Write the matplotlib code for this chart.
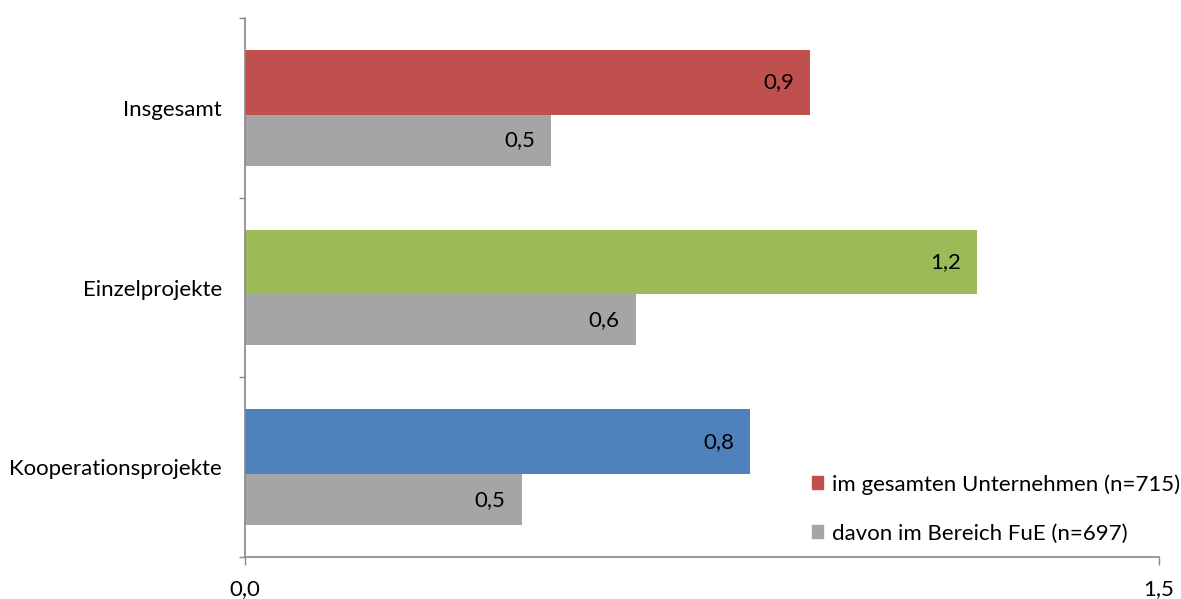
import matplotlib
matplotlib.use('Agg')
import matplotlib.pyplot as plt
from matplotlib.patches import Patch

plt.rcParams['font.family'] = ['Lato', 'DejaVu Sans']

# categories and values
categories = ['Insgesamt', 'Einzelprojekte', 'Kooperationsprojekte']
total_vals = [0.927, 1.202, 0.829]   # im gesamten Unternehmen
fue_vals = [0.502, 0.641, 0.454]     # davon im Bereich FuE
total_colors = ['#C0504D', '#9BBB59', '#4F81BD']
fue_color = '#A5A5A5'
legend_labels = ['im gesamten Unternehmen (n=715)', 'davon im Bereich FuE (n=697)']
xtick_vals = [0.0, 1.5]

fig = plt.figure(figsize=(11.81, 5.99), dpi=100)
ax = fig.add_axes([245 / 1181, 1 - 557 / 599, 914 / 1181, 539 / 599])

pos = list(range(len(categories)))
h_total = 65 / 180
h_fue = 51 / 180
off_total = -25.5 / 180
off_fue = 32.5 / 180

y_total = [p + off_total for p in pos]
y_fue = [p + off_fue for p in pos]
b1 = ax.barh(y_total, total_vals, height=h_total, color=total_colors)
b2 = ax.barh(y_fue, fue_vals, height=h_fue, color=fue_color)

fs = 16
for bars, vals in ((b1, total_vals), (b2, fue_vals)):
    for rect, v in zip(bars, vals):
        ax.annotate(f'{v:.1f}'.replace('.', ','),
                    xy=(rect.get_width(), rect.get_y() + rect.get_height() / 2),
                    xytext=(-16, 0), textcoords='offset pixels',
                    ha='right', va='center', fontsize=fs, color='black')

ax.set_xlim(0, 1.5)
ax.set_ylim(len(categories) - 0.5, -0.5)

# category boundaries as tick marks, labels in the middle
ax.set_yticks([p - 0.5 for p in pos] + [pos[-1] + 0.5])
ax.set_yticklabels([])
ax.set_yticks(pos, minor=True)
ax.set_yticklabels(categories, minor=True, fontsize=fs)
ax.tick_params(axis='y', which='minor', length=0, pad=16.5)
ax.tick_params(axis='y', which='major', length=4.3, color='#888888', width=1)

ax.set_xticks(xtick_vals)
ax.set_xticklabels([f'{v:.1f}'.replace('.', ',') for v in xtick_vals], fontsize=fs)
ax.tick_params(axis='x', length=6, color='#888888', width=1, pad=10)

for s in ('top', 'right'):
    ax.spines[s].set_visible(False)
for s in ('left', 'bottom'):
    ax.spines[s].set_color('#888888')
    ax.spines[s].set_linewidth(1.2)

handles = [Patch(color=total_colors[0]), Patch(color=fue_color)]
fig.legend(handles, legend_labels, loc='upper left',
           bbox_to_anchor=(812 / 1181, 1 - 474 / 599), frameon=False,
           fontsize=fs, handlelength=0.5, handleheight=0.5, handletextpad=0.4,
           labelspacing=1.3, borderaxespad=0, borderpad=0)

fig.savefig('out.png', dpi=100)
